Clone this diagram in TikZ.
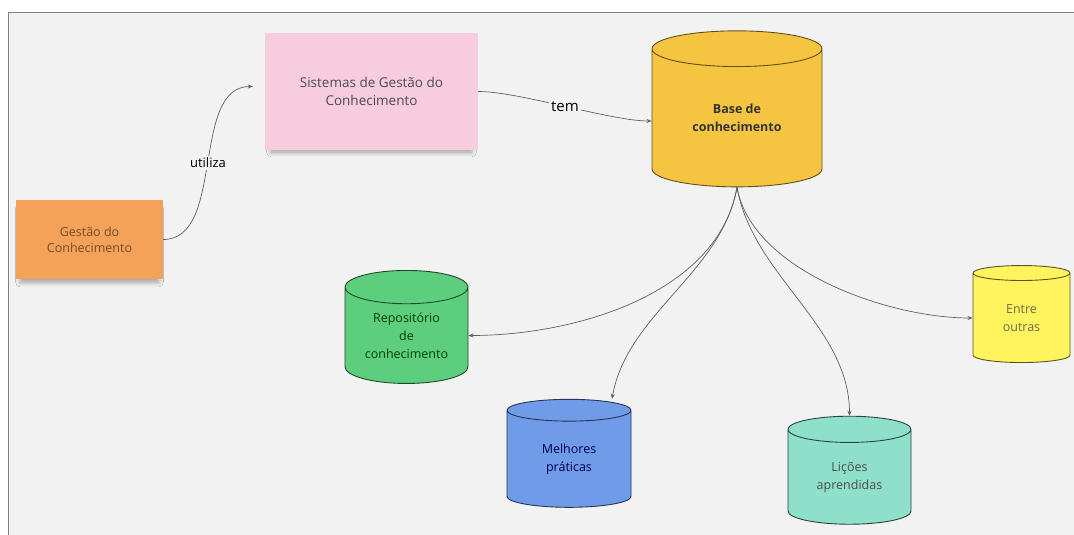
\documentclass[tikz,border=0pt]{standalone}
\usepackage{fontspec}
\setmainfont{Open Sans}
\usetikzlibrary{shapes.geometric,arrows.meta,shadows.blur}

\definecolor{painel}{HTML}{F2F2F2}
\definecolor{laranja}{HTML}{F4A259}
\definecolor{rosa}{HTML}{F7CCDD}
\definecolor{ouro}{HTML}{F5C542}
\definecolor{verde}{HTML}{5CCE7E}
\definecolor{azul}{HTML}{6F9BE8}
\definecolor{turquesa}{HTML}{8FE0CB}
\definecolor{amarelo}{HTML}{FFF35E}
\definecolor{linha}{HTML}{606060}

\begin{document}
\begin{tikzpicture}[x=1pt,y=-1pt]
        \tikzstyle{nota}=[rectangle, inner sep=0pt, align=center,
          blur shadow={shadow xshift=0pt, shadow yshift=-6pt, shadow scale=0.94, shadow opacity=35,
            shadow blur radius=5pt, shadow blur steps=8}]
        \tikzstyle{banco}=[cylinder, shape border rotate=90, aspect=0.4, draw, line width=0.9pt,
          inner sep=0pt, align=center, font=\fontsize{12.5}{18}\selectfont]
        \tikzstyle{seta}=[draw=linha, line width=0.7pt, -{Stealth[length=5pt,width=4pt]}]
        \tikzstyle{rotulo}=[fill=painel, inner sep=2pt]

        \useasboundingbox (0,0) rectangle (1074,535);
        \fill[white] (0,0) rectangle (1074,535);
        \fill[painel] (8,13) rectangle (1074,535);
        \draw[gray, line width=1pt] (8,535) -- (8,13) -- (1074,13);

        % notas
        \node (gestao) at (89.5,239.5)[nota, fill=laranja, text=brown!60!black,
          minimum width=147pt, minimum height=79pt, font=\fontsize{12.5}{16}\selectfont]{Gestão do\\Conhecimento};
        \node (sistemas) at (371.5,91.5)[nota, fill=rosa, text=black!70,
          minimum width=213pt, minimum height=117pt, font=\fontsize{13.5}{18}\selectfont]{Sistemas de Gestão do\\Conhecimento};

        % bancos
        \node (base) at (737,118)[banco, fill=ouro, draw=ouro!40!black, text=black!80,
          minimum width=170pt, minimum height=156pt, font=\fontsize{12.5}{18}\bfseries]{Base de\\conhecimento};
        \node (repositorio) at (406.5,335.5)[banco, fill=verde, draw=verde!35!black, text=green!25!black,
          minimum width=123pt, minimum height=113pt]{Repositório\\de\\conhecimento};
        \node (praticas) at (569,459)[banco, fill=azul, draw=azul!35!black, text=blue!30!black,
          minimum width=124pt, minimum height=108pt]{Melhores\\práticas};
        \node (licoes) at (849.5,477)[banco, fill=turquesa, draw=turquesa!30!black, text=black!70,
          minimum width=123pt, minimum height=108pt]{Lições\\aprendidas};
        \node (outras) at (1021.5,318)[banco, fill=amarelo, draw=amarelo!35!black, text=yellow!35!black,
          minimum width=97pt, minimum height=97pt]{Entre\\outras};

        % ligacoes
        \draw[seta] (gestao.east) to[out=0, in=180, looseness=0.9]
          node[rotulo, pos=0.5, font=\fontsize{13}{16}\selectfont]{utiliza} ([xshift=-12pt,yshift=5pt]sistemas.west);
        \draw[seta] (sistemas.east) to[out=0, in=180, looseness=0.6]
          node[rotulo, pos=0.5, font=\fontsize{15}{18}\selectfont]{tem} ([yshift=-3pt]base.west);
        \draw[seta] (base.south) to[out=-100, in=0, looseness=0.9] (repositorio.east);
        \draw[seta] (base.south) to[out=-100, in=80, looseness=0.9] ([xshift=43pt]praticas.north);
        \draw[seta] (base.south) to[out=-80, in=90, looseness=0.9] (licoes.north);
        \draw[seta] (base.south) to[out=-80, in=180, looseness=0.8] (outras.west);
      \end{tikzpicture}
\end{document}
